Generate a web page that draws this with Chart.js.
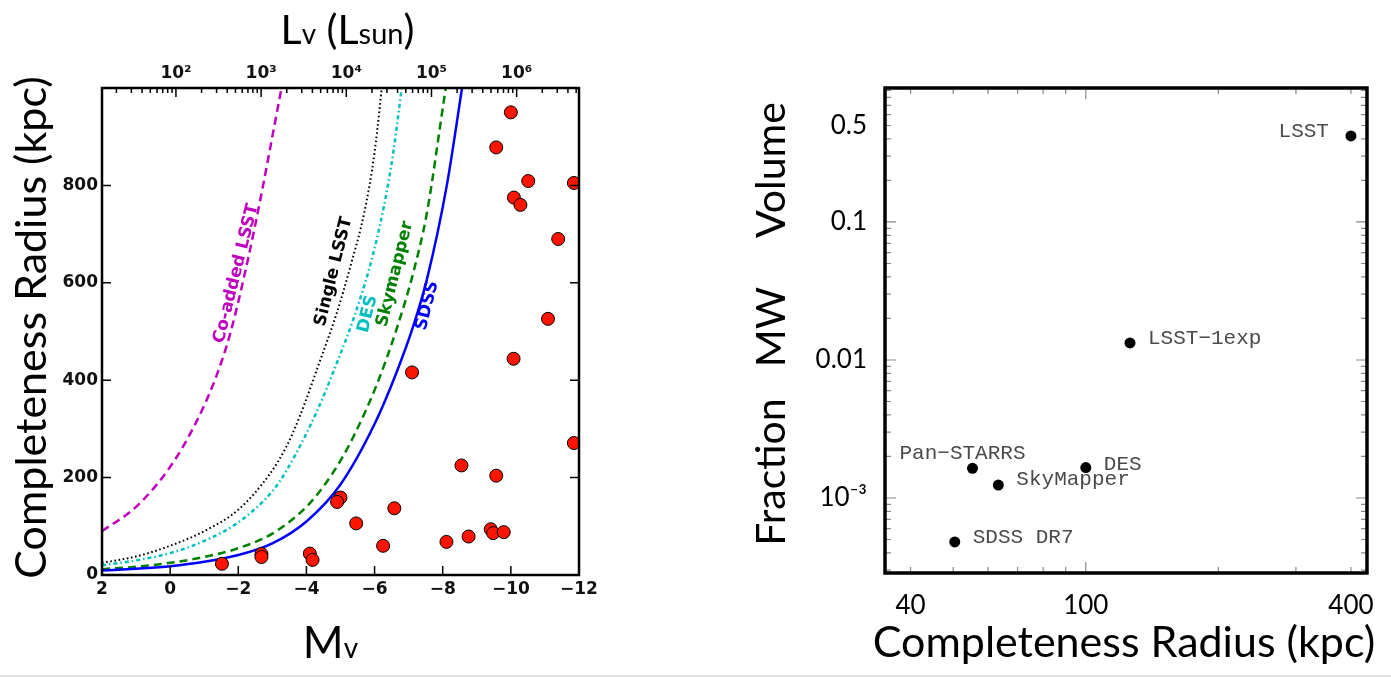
<!DOCTYPE html>
<html>
<head>
<meta charset="utf-8">
<script src="https://cdn.jsdelivr.net/npm/chart.js@4.4.1/dist/chart.umd.min.js"></script>
<style>
  html, body { margin: 0; padding: 0; background: #fff; }
  body { width: 1391px; height: 678px; position: relative; overflow: hidden; }
  canvas { position: absolute; top: 0; }
  #leftChart { left: 0; }
  #rightChart { left: 700px; }
  #slideEdge { position: absolute; left: 0; top: 675px; width: 1391px; height: 2px; background: #e4e4e4; }
</style>
</head>
<body>
<canvas id="leftChart" width="700" height="678"></canvas>
<canvas id="rightChart" width="691" height="678"></canvas>
<div id="slideEdge"></div>
<script>
const MSUN_V = 4.83; // absolute V mag of the sun, used for the top Lv axis

// ---------- left panel: completeness radius (kpc) vs Mv ----------
// known satellites (red dots)
const dwarfMv = [-10.0, -9.57, -10.51, -11.85, -10.09, -10.28, -11.39, -11.09, -10.08, -7.10,
                 -11.85, -8.55, -9.57, -5.00, -4.90, -6.58, -5.46, -9.41, -9.48, -9.79,
                 -8.76, -8.11, -6.25, -2.68, -2.68, -4.10, -4.18, -1.52];
const dwarfR = [950, 878, 809, 805, 775, 760, 690, 526, 444, 416,
                271, 225, 204, 159, 150, 137, 106, 94, 86, 88,
                79, 68, 60, 43, 37, 44, 31, 23];

// survey completeness curves
const coaddMv = [2, 1, 0, -0.7, -1.3, -1.76, -2.29, -2.7, -3.05, -3.35];
const coaddR = [90, 140, 222, 305, 398, 495, 650, 790, 919, 1030];
const singleMv = [2, 1, 0, -1, -2, -2.9, -3.4, -3.8, -4.4, -4.9, -5.3, -5.7, -6.0, -6.3];
const singleR = [25, 38, 60, 90, 134, 205, 262, 325, 440, 540, 636, 745, 868, 1060];
const desMv = [2, 1, 0, -1, -2, -3, -3.42, -4.3, -4.89, -5.38, -5.87, -6.26, -6.55, -6.85];
const desR = [20, 30, 45, 70, 108, 172, 215, 335, 435, 526, 636, 752, 868, 1030];
const skyMv = [2, 1, 0, -1, -2, -3, -4, -4.5, -5, -5.4, -6.06, -6.65, -7.14, -7.54, -8.07, -8.25];
const skyR = [12, 17, 25, 37, 55, 85, 140, 182, 235, 287, 390, 506, 622, 745, 991, 1070];
const sdssMv = [2, 1, 0, -1, -2, -3, -4, -5, -6, -6.65, -7.14, -7.54, -8.12, -8.6];
const sdssR = [9, 13, 18, 27, 41, 65, 110, 186, 310, 417, 512, 608, 800, 1015];

const mvTickVals = [2, 0, -2, -4, -6, -8, -10, -12];
const radiusTickVals = [0, 200, 400, 600, 800];
const lumExponents = [2, 3, 4, 5, 6];
const lumTickLabels = ['10²', '10³', '10⁴', '10⁵', '10⁶'];

const curveNames = ['Co-added LSST', 'Single LSST', 'DES', 'Skymapper', 'SDSS'];
const curveLabelMv = [-1.94, -4.80, -5.80, -6.60, -7.55];
const curveLabelR = [619, 623, 536, 618, 553];
const curveColors = ['#bf00bf', '#000000', '#00bfbf', '#008000', '#0000ff'];

// ---------- right panel: MW volume fraction vs completeness radius ----------
const surveyNames = ['LSST', 'LSST\u22121exp', 'Pan\u2212STARRS', 'DES', 'SkyMapper', 'SDSS DR7'];
const surveyRadius = [400, 126, 55.3, 100, 63.3, 50.4];
const surveyVolume = [0.42, 0.0133, 0.00164, 0.00166, 0.00124, 0.00048];
const distTickVals = [40, 100, 400];
const volumeTickVals = [0.5, 0.1, 0.01, 0.001];
const volumeTickLabels = ['0.5', '0.1', '0.01', '10\u207B\u00B3'];

// label placement next to each survey dot: dx, dy, align
const surveyLabelOffsets = [[-22, 1, 'right'], [18, 1, 'left'], [-73, -9.5, 'left'],
                            [18, 2, 'left'], [18, 0, 'left'], [18, 1, 'left']];

function pairs(xs, ys) {
    return xs.map((x, i) => ({x: x, y: ys[i]}));
}

function minusLabel(v) {
    return v < 0 ? '\u2212' + (-v) : String(v);
}

function curveDataset(mv, r, color, dash, width) {
    return {
        type: 'line',
        data: pairs(mv, r),
        borderColor: color,
        borderWidth: width,
        borderDash: dash,
        borderCapStyle: 'butt',
        pointRadius: 0,
        fill: false,
        cubicInterpolationMode: 'monotone'
    };
}

const boldTick = {family: 'DejaVu Sans', weight: 'bold', size: 17};

const leftDecor = {
    id: 'leftDecor',
    afterDatasetsDraw(chart) {
        const ctx = chart.ctx;
        const a = chart.chartArea;
        const xs = chart.scales.x, xt = chart.scales.xTop, ys = chart.scales.y;
        ctx.save();

        // inward ticks
        ctx.strokeStyle = '#000';
        ctx.lineWidth = 1.5;
        ctx.beginPath();
        radiusTickVals.forEach(v => {
            if (v === 0) return;
            const py = ys.getPixelForValue(v);
            ctx.moveTo(a.left, py); ctx.lineTo(a.left + 9, py);
            ctx.moveTo(a.right, py); ctx.lineTo(a.right - 9, py);
        });
        mvTickVals.forEach(v => {
            const px = xs.getPixelForValue(v);
            ctx.moveTo(px, a.bottom); ctx.lineTo(px, a.bottom - 9);
        });
        for (let e = 1; e <= 6; e++) {
            for (let k = 1; k <= 9; k++) {
                const mv = MSUN_V - 2.5 * (e + Math.log10(k));
                if (mv > 2 || mv < -12) continue;
                const px = xt.getPixelForValue(mv);
                ctx.moveTo(px, a.top); ctx.lineTo(px, a.top + (k === 1 ? 9 : 5));
            }
        }
        ctx.stroke();

        // frame
        ctx.lineWidth = 2.5;
        ctx.strokeRect(a.left, a.top, a.right - a.left, a.bottom - a.top);

        // curve names, rotated along the curves
        ctx.font = 'bold 17px "DejaVu Sans"';
        ctx.textAlign = 'center';
        ctx.textBaseline = 'middle';
        curveNames.forEach((name, i) => {
            ctx.save();
            ctx.translate(xs.getPixelForValue(curveLabelMv[i]), ys.getPixelForValue(curveLabelR[i]));
            ctx.rotate(-76 * Math.PI / 180);
            ctx.fillStyle = curveColors[i];
            ctx.fillText(name, 0, 0);
            ctx.restore();
        });

        // axis titles
        ctx.fillStyle = '#000';
        ctx.textBaseline = 'alphabetic';
        ctx.save();
        ctx.translate(46, (a.top + a.bottom) / 2 - 4);
        ctx.rotate(-Math.PI / 2);
        ctx.font = '43px Lato';
        ctx.textAlign = 'center';
        ctx.fillText('Completeness Radius (kpc)', 0, 0);
        ctx.restore();

        drawPieces(ctx, [['M', 44], ['v', 28]], (a.left + a.right) / 2 - 10, 658);
        drawPieces(ctx, [['L', 41], ['v', 28], [' (', 41], ['L', 41], ['sun', 29], [')', 41]],
                   (a.left + a.right) / 2 + 7, 44);
        ctx.restore();
    }
};

// text made of big and small parts on one baseline, centred on cx
function drawPieces(ctx, pieces, cx, baseline) {
    ctx.textAlign = 'left';
    let total = 0;
    pieces.forEach(p => { ctx.font = p[1] + 'px Lato'; total += ctx.measureText(p[0]).width; });
    let x = cx - total / 2;
    pieces.forEach(p => {
        ctx.font = p[1] + 'px Lato';
        ctx.fillText(p[0], x, baseline);
        x += ctx.measureText(p[0]).width;
    });
}

new Chart('leftChart', {
    type: 'scatter',
    data: {
        datasets: [
            {
                data: pairs(dwarfMv, dwarfR),
                backgroundColor: '#ff1400',
                borderColor: '#000',
                borderWidth: 1,
                pointRadius: 6.5,
                clip: 0
            },
            curveDataset(sdssMv, sdssR, curveColors[4], [], 2.5),
            curveDataset(skyMv, skyR, curveColors[3], [8, 5], 2.5),
            curveDataset(desMv, desR, curveColors[2], [4, 3, 1.5, 3], 2.5),
            curveDataset(singleMv, singleR, curveColors[1], [1.6, 2.6], 2),
            curveDataset(coaddMv, coaddR, curveColors[0], [8, 5], 2.5)
        ]
    },
    options: {
        responsive: false,
        animation: false,
        layout: {padding: {left: 0, top: 0, right: 121, bottom: 0}},
        plugins: {legend: {display: false}, tooltip: {enabled: false}},
        scales: {
            x: {
                type: 'linear', position: 'bottom', min: -12, max: 2, reverse: true,
                grid: {display: false, drawTicks: false}, border: {display: false},
                afterBuildTicks: s => { s.ticks = mvTickVals.map(v => ({value: v})); },
                afterFit: s => { s.height = 103; },
                ticks: {callback: v => minusLabel(v), font: boldTick, color: '#111',
                        padding: 4, autoSkip: false, maxRotation: 0}
            },
            xTop: {
                type: 'linear', position: 'top', min: -12, max: 2, reverse: true,
                grid: {display: false, drawTicks: false}, border: {display: false},
                afterBuildTicks: s => { s.ticks = lumExponents.map(e => ({value: MSUN_V - 2.5 * e})); },
                afterFit: s => { s.height = 88; },
                ticks: {callback: (v, i) => lumTickLabels[i], font: boldTick, color: '#111',
                        padding: 4, autoSkip: false, maxRotation: 0}
            },
            y: {
                type: 'linear', min: 0, max: 1000,
                grid: {display: false, drawTicks: false}, border: {display: false},
                afterBuildTicks: s => { s.ticks = radiusTickVals.map(v => ({value: v})); },
                afterFit: s => { s.width = 102; },
                ticks: {font: boldTick, color: '#111', padding: 4, autoSkip: false}
            }
        }
    },
    plugins: [leftDecor]
});

const rightDecor = {
    id: 'rightDecor',
    afterDatasetsDraw(chart) {
        const ctx = chart.ctx;
        const a = chart.chartArea;
        const xs = chart.scales.x, ys = chart.scales.y;
        ctx.save();

        // log ticks on all four sides
        ctx.strokeStyle = '#8a8a8a';
        ctx.lineWidth = 1.2;
        ctx.beginPath();
        for (let e = 1; e <= 2; e++) {
            for (let k = 1; k <= 9; k++) {
                const v = k * Math.pow(10, e);
                if (v < xs.min || v > xs.max) continue;
                const px = xs.getPixelForValue(v);
                const len = k === 1 ? 11 : 6;
                ctx.moveTo(px, a.bottom); ctx.lineTo(px, a.bottom - len);
                ctx.moveTo(px, a.top); ctx.lineTo(px, a.top + len);
            }
        }
        for (let e = -4; e <= -1; e++) {
            for (let k = 1; k <= 9; k++) {
                const v = k * Math.pow(10, e);
                if (v < ys.min || v > ys.max) continue;
                const py = ys.getPixelForValue(v);
                const len = k === 1 ? 11 : 6;
                ctx.moveTo(a.left, py); ctx.lineTo(a.left + len, py);
                ctx.moveTo(a.right, py); ctx.lineTo(a.right - len, py);
            }
        }
        ctx.stroke();

        ctx.strokeStyle = '#000';
        ctx.lineWidth = 3.5;
        ctx.strokeRect(a.left, a.top, a.right - a.left, a.bottom - a.top);

        // survey names
        ctx.font = '21px "Liberation Mono"';
        ctx.fillStyle = '#4a4a4a';
        ctx.textBaseline = 'alphabetic';
        surveyNames.forEach((name, i) => {
            const off = surveyLabelOffsets[i];
            ctx.textAlign = off[2];
            ctx.fillText(name, xs.getPixelForValue(surveyRadius[i]) + off[0],
                         ys.getPixelForValue(surveyVolume[i]) + off[1]);
        });

        // titles
        ctx.fillStyle = '#000';
        ctx.font = '43px Lato';
        ctx.textAlign = 'center';
        ctx.fillText('Completeness Radius (kpc)', (a.left + a.right) / 2 - 2, 657);

        ctx.font = '41px Lato';
        [['Fraction', 472], ['MW', 327], ['Volume', 170]].forEach(w => {
            ctx.save();
            ctx.translate(85, w[1]);
            ctx.rotate(-Math.PI / 2);
            ctx.fillText(w[0], 0, 0);
            ctx.restore();
        });
        ctx.restore();
    }
};

new Chart('rightChart', {
    type: 'scatter',
    data: {
        datasets: [{
            data: pairs(surveyRadius, surveyVolume),
            backgroundColor: '#000',
            borderColor: '#000',
            borderWidth: 0,
            pointRadius: 5.5
        }]
    },
    options: {
        responsive: false,
        animation: false,
        layout: {padding: {left: 0, top: 88, right: 13, bottom: 0}},
        plugins: {legend: {display: false}, tooltip: {enabled: false}},
        scales: {
            x: {
                type: 'logarithmic', min: 35, max: 435,
                grid: {display: false, drawTicks: false}, border: {display: false},
                afterBuildTicks: s => { s.ticks = distTickVals.map(v => ({value: v})); },
                afterFit: s => { s.height = 105; },
                ticks: {callback: v => String(v), font: {family: 'Lato', size: 26}, color: '#000',
                        padding: 17, autoSkip: false, maxRotation: 0}
            },
            y: {
                type: 'logarithmic', min: 2.86e-4, max: 0.935,
                grid: {display: false, drawTicks: false}, border: {display: false},
                afterBuildTicks: s => { s.ticks = volumeTickVals.map(v => ({value: v})); },
                afterFit: s => { s.width = 185; },
                ticks: {callback: (v, i) => volumeTickLabels[i], font: {family: 'Lato', size: 26},
                        color: '#000', padding: 18, autoSkip: false}
            }
        }
    },
    plugins: [rightDecor]
});
</script>
</body>
</html>
